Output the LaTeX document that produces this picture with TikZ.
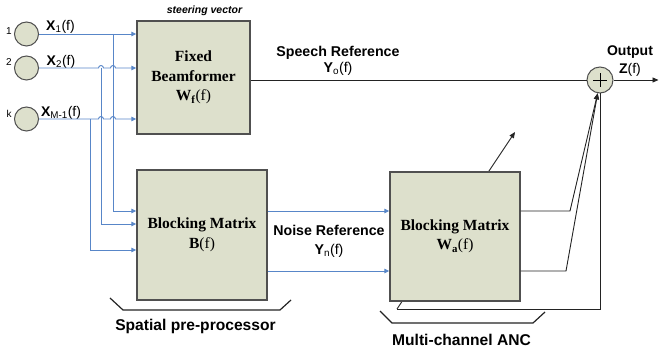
\documentclass[tikz,border=0pt]{standalone}
\usepackage{fontspec}
\setmainfont{Liberation Sans}
\newfontfamily\boxfont{Liberation Serif}
\usetikzlibrary{arrows.meta,calc}
\definecolor{boxfill}{RGB}{221,224,204}
\definecolor{boxline}{RGB}{80,80,80}
\definecolor{feedblue}{RGB}{88,134,200}
\definecolor{sigline}{RGB}{35,35,35}

\begin{document}
\begin{tikzpicture}[x=1pt,y=-1pt,
  block/.style={draw=boxline,line width=1.4pt,fill=boxfill,align=center,inner sep=0pt,
    font=\boxfont\bfseries\fontsize{15.5}{19.5}\selectfont},
  mic/.style={circle,draw=boxline,line width=1pt,fill=boxfill,minimum size=24pt,inner sep=0pt},
  sumnode/.style={circle,draw=boxline,line width=1pt,fill=boxfill,minimum size=26pt,inner sep=0pt},
  feed/.style={draw=feedblue,line width=0.9pt},
  feedarrow/.style={feed,-{Triangle[length=5pt,width=4.5pt]}},
  sig/.style={draw=sigline,line width=0.9pt},
  sigarrow/.style={sig,-{Triangle[length=6pt,width=5pt]}},
  bracket/.style={draw=sigline,line width=1.2pt},
  lbl/.style={font=\bfseries\fontsize{14.2}{16}\selectfont,align=center,inner sep=0pt},
  biglbl/.style={font=\bfseries\fontsize{15.6}{18}\selectfont,inner sep=0pt},
  sublbl/.style={font=\fontsize{14}{16}\selectfont,inner sep=0pt},
  numlbl/.style={font=\fontsize{10}{11}\selectfont,inner sep=0pt}
]
\useasboundingbox (0,0) rectangle (659,352);

% microphones
\node[mic] (m1) at (26.5,34) {};
\node[mic] (m2) at (26.5,68) {};
\node[mic] (mk) at (26.5,119) {};
\node[numlbl] (n1) at (9,31.5) {1};
\node[numlbl] (n2) at (9,62.5) {2};
\node[numlbl] (nk) at (9,114) {k};
\node[sublbl] (x1) at (60.5,27) {\textbf{X}\textsubscript{1}(f)};
\node[sublbl] (x2) at (61,62) {\textbf{X}\textsubscript{2}(f)};
\node[sublbl] (xk) at (61,113) {\textbf{X}\textsubscript{M-1}(f)};

% processing blocks
\node[block,minimum width=113pt,minimum height=113pt] (fb) at (193.5,77.5)
  {Fixed\\Beamformer\\W\textsubscript{f}{\mdseries(f)}};
\node[font=\bfseries\itshape\fontsize{10.5}{12}\selectfont,inner sep=0pt] (sv) at (204.5,11) {steering vector};
\node[block,minimum width=130pt,minimum height=130pt] (bm) at (202,235)
  {Blocking Matrix\\B{\mdseries(f)}};

% tap points of the branches to the blocking matrix
\coordinate (j1) at (113,34);
\coordinate (j2) at (101,68);
\coordinate (j3) at (90,119);

% sensor signals into the fixed beamformer (with line hops)
\draw[feedarrow] (m1.east) -- (m1.east -| fb.west);
\draw[feedarrow] (m2.east) -- ([xshift=-2.5pt]m2.east -| j2)
  arc[start angle=180,end angle=0,radius=2.5pt]
  -- ([xshift=-2.5pt]m2.east -| j1)
  arc[start angle=180,end angle=0,radius=2.5pt]
  -- (m2.east -| fb.west);
\draw[feedarrow] (mk.east) -- ([xshift=-2.5pt]mk.east -| j2)
  arc[start angle=180,end angle=0,radius=2.5pt]
  -- ([xshift=-2.5pt]mk.east -| j1)
  arc[start angle=180,end angle=0,radius=2.5pt]
  -- (mk.east -| fb.west);

% branches into the blocking matrix
\draw[feedarrow] (j1) |- (bm.west |- 0,211);
\draw[feedarrow] (j2) |- (bm.west |- 0,224);
\draw[feedarrow] (j3) |- (bm.west |- 0,250);

% summing junction and output
\node[sumnode] (sum) at (600,80) {};
\draw[line width=0.7pt] ($(sum.center)+(-7pt,0)$) -- ($(sum.center)+(7pt,0)$)
  ($(sum.center)+(0,-7pt)$) -- ($(sum.center)+(0,7pt)$);
\coordinate (out) at (658.5,80);
\draw[sig] (fb.east |- sum) -- (sum.west);
\draw[sigarrow] (sum.east) -- (out);
\node[lbl] (yo) at (338,61) {Speech Reference\\Y\textsubscript{\mdseries o}{\mdseries(f)}};
\node[lbl,font=\bfseries\fontsize{14}{18}\selectfont] (zo) at (630,61) {Output\\Z{\mdseries(f)}};

% adaptation arrow (passes behind the adaptive block)
\coordinate (fbk) at (397,309);
\coordinate (adp) at (515,132);
\draw[sigarrow] (fbk) -- (adp);

% adaptive block
\node[block,minimum width=130pt,minimum height=129pt] (wa) at (455,236.5)
  {Blocking Matrix\\W\textsubscript{a}{\mdseries(f)}};

% noise references
\draw[feedarrow] (bm.east |- 0,211) -- (wa.west |- 0,211);
\draw[feedarrow] (bm.east |- 0,271) -- (wa.west |- 0,271);
\node[lbl,font=\bfseries\fontsize{14.2}{19}\selectfont] (yn) at (329,241.5) {Noise Reference\\Y\textsubscript{\mdseries n}{\mdseries(f)}};

% adaptive filter outputs to the sum
\draw[sigarrow] (wa.east |- 0,211) -- (570,211) -- (sum.-100);
\draw[sigarrow] (wa.east |- 0,271) -- (566,271) -- (sum.-100);

% error feedback
\draw[sig] (sum.south) |- (fbk);

% group brackets
\draw[bracket] (110,298) -- (123,310) -- (280,310) -- (291,300);
\node[biglbl] (spp) at (195.5,326) {Spatial pre-processor};
\draw[bracket] (380,311) -- (392,323) -- (533,323) -- (545,312);
\node[biglbl] (anc) at (461.5,340) {Multi-channel ANC};
\end{tikzpicture}
\end{document}
